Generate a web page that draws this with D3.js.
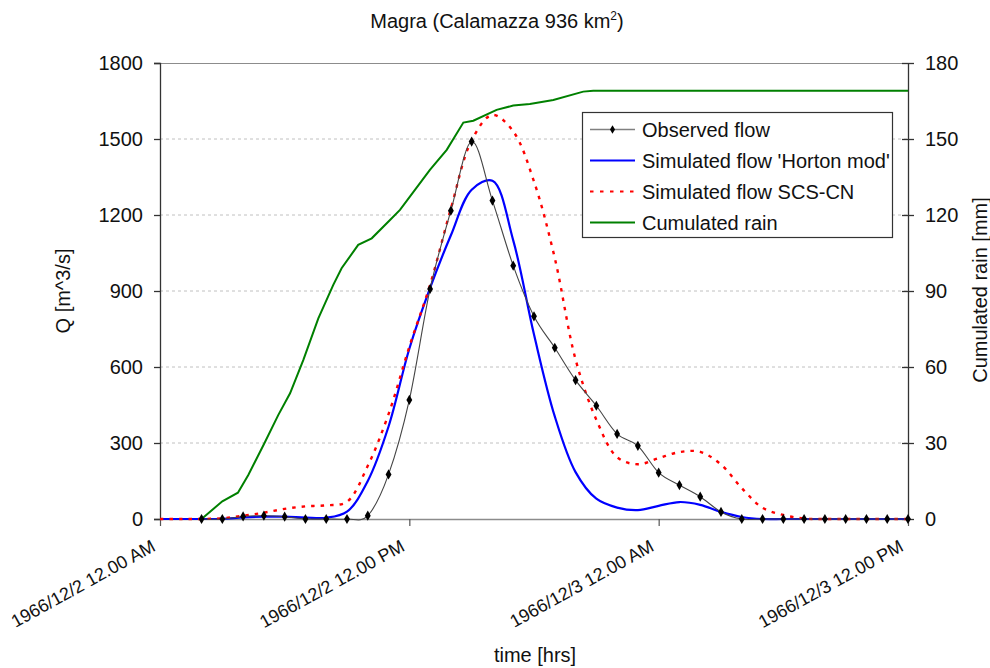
<!DOCTYPE html>
<html>
<head>
<meta charset="utf-8">
<script src="https://cdn.jsdelivr.net/npm/d3@7"></script>
<style>
  body { margin: 0; background: #fff; }
  svg { display: block; font-family: Arial, "Liberation Sans", sans-serif; }
</style>
</head>
<body>
<svg id="chart" width="990" height="668"></svg>
<script>
// ---- data ----
const title = "Magra (Calamazza 936 km";
const xTickHours = [0, 12, 24, 36];
const xTickLabels = ["1966/12/2 12.00 AM", "1966/12/2 12.00 PM", "1966/12/3 12.00 AM", "1966/12/3 12.00 PM"];
const qTicks = [0, 300, 600, 900, 1200, 1500, 1800];
const rainTicks = [0, 30, 60, 90, 120, 150, 180];

const obsHours = [2,3,4,5,6,7,8,9,10,11,12,13,14,15,16,17,18,19,20,21,22,23,24,25,26,27,28,29,30,31,32,33,34,35,36];
const obsFlow  = [0,0,10,13,9,0,0,0,13,176,470,908,1217,1490,1257,1000,800,676,548,447,336,289,183,134,88,28,0,0,0,0,0,0,0,0,0];

const simHours = [0,1,2,3,4,5,6,7,8,9,10,11,12,13,14,15,16,17,18,19,20,21,22,23,24,25,26,27,28,29,30,31,32,33,34,35,36];
const hortonFlow = [0,0,0,1,6,9,9,6,5,29,150,365,672,912,1120,1300,1335,1100,728,405,185,80,45,35,52,67,56,28,8,0,0,0,0,0,0,0,0];
const scsFlow    = [0,0,0,3,13,25,40,50,54,68,210,414,680,925,1225,1495,1595,1530,1332,1030,630,392,244,216,240,264,265,215,122,44,16,2,0,0,0,0,0];

const rainHours = [0,2,3,3.75,4.25,5,5.69,6.26,6.9,7.62,8.34,8.74,9.54,10.19,11.07,11.55,12.27,12.99,13.8,14.6,15.08,16.2,17,17.8,18.93,20.37,20.85,36];
const rainCum   = [0,0,7,10.4,17.4,29.5,41,49.6,62.8,79.2,92.4,99,108.2,110.8,118,122,129.9,137.8,145.7,156.5,157.2,161.5,163.2,163.8,165.4,168.7,169,169];

const seriesNames = ["Observed flow", "Simulated flow 'Horton mod'", "Simulated flow SCS-CN", "Cumulated rain"];

// ---- layout ----
const svg = d3.select("#chart");
const L = 160, R = 908, T = 63, B = 519;
const FS = 20;
const FONT = "Arial, 'Liberation Sans', sans-serif";

const x = d3.scaleLinear().domain([0, 36]).range([L, R]);
const yQ = d3.scaleLinear().domain([0, 1800]).range([B, T]);
const yR = d3.scaleLinear().domain([0, 180]).range([B, T]);

// gridlines
svg.append("g").selectAll("line").data(qTicks.filter(d => d > 0 && d < 1800)).join("line")
  .attr("x1", L).attr("x2", R).attr("y1", d => yQ(d)).attr("y2", d => yQ(d))
  .attr("stroke", "#c0c0c0").attr("stroke-dasharray", "3,3").attr("stroke-width", 1);

// frame top
svg.append("line").attr("x1", L).attr("x2", R).attr("y1", T + 0.5).attr("y2", T + 0.5)
  .attr("stroke", "#8c8c8c").attr("stroke-width", 1.2);

// left axis
const axL = svg.append("g").attr("transform", `translate(${L},0)`)
  .call(d3.axisLeft(yQ).tickValues(qTicks).tickSize(6).tickPadding(11).tickFormat(d3.format("d")));
axL.select(".domain").attr("stroke", "#333").attr("stroke-width", 1.3);
axL.selectAll(".tick line").attr("stroke", "#333").attr("stroke-width", 1.3);
axL.selectAll("text").attr("font-size", FS).attr("fill", "#111").attr("font-family", FONT);

// right axis
const axR = svg.append("g").attr("transform", `translate(${R},0)`)
  .call(d3.axisRight(yR).tickValues(rainTicks).tickSizeInner(6).tickSizeOuter(0).tickPadding(11));
axR.select(".domain").attr("stroke", "#333").attr("stroke-width", 1.3);
axR.selectAll(".tick line").attr("x1", -6).attr("stroke", "#333").attr("stroke-width", 1.3);
axR.selectAll("text").attr("font-size", FS).attr("fill", "#111").attr("font-family", FONT);

// bottom axis
const axB = svg.append("g").attr("transform", `translate(0,${B})`)
  .call(d3.axisBottom(x).tickValues(xTickHours).tickSizeInner(7).tickSizeOuter(0).tickFormat((d, i) => xTickLabels[i]));
axB.select(".domain").attr("stroke", "#8c8c8c").attr("stroke-width", 1.6);
axB.selectAll(".tick line").attr("stroke", "#555").attr("stroke-width", 1.2);
axB.selectAll("text").attr("font-size", 18).attr("fill", "#111")
  .attr("font-family", FONT)
  .attr("text-anchor", "end").attr("dy", null).attr("y", 0)
  .attr("transform", "translate(-4,31) rotate(-29)");

// lines
const lineQ = (xs, ys, curve) => d3.line().x((d, i) => x(xs[i])).y(d => yQ(d)).curve(curve)(ys);

svg.append("path").attr("d", d3.line().x((d, i) => x(rainHours[i])).y(d => yR(d))(rainCum))
  .attr("fill", "none").attr("stroke", "#008000").attr("stroke-width", 2);

svg.append("path").attr("d", lineQ(simHours, hortonFlow, d3.curveCatmullRom.alpha(0.5)))
  .attr("fill", "none").attr("stroke", "#0000ff").attr("stroke-width", 2.2);

svg.append("path").attr("d", lineQ(simHours, scsFlow, d3.curveCatmullRom.alpha(0.5)))
  .attr("fill", "none").attr("stroke", "#ff0000").attr("stroke-width", 2.4).attr("stroke-dasharray", "3.5,6");

svg.append("path").attr("d", lineQ(obsHours, obsFlow, d3.curveCardinal.tension(0)))
  .attr("fill", "none").attr("stroke", "#454545").attr("stroke-width", 1.1);

const diamond = d3.symbol().type(d3.symbolDiamond).size(30);
svg.append("g").selectAll("path").data(obsFlow).join("path")
  .attr("d", diamond)
  .attr("transform", (d, i) => `translate(${x(obsHours[i])},${yQ(d)})`)
  .attr("fill", "#000");

// legend
const lg = svg.append("g");
lg.append("rect").attr("x", 582.5).attr("y", 112.5).attr("width", 310).attr("height", 125)
  .attr("fill", "#fff").attr("stroke", "#333").attr("stroke-width", 1.2);
const rows = [129.5, 160.5, 191.5, 222.5];
const lstyles = [
  {c: "#808080", w: 1.6, dash: null},
  {c: "#0000ff", w: 2.2, dash: null},
  {c: "#ff0000", w: 2, dash: "3.5,6.5"},
  {c: "#008000", w: 2, dash: null}
];
seriesNames.forEach((name, i) => {
  const yy = rows[i];
  lg.append("line").attr("x1", 590).attr("x2", 635).attr("y1", yy).attr("y2", yy)
    .attr("stroke", lstyles[i].c).attr("stroke-width", lstyles[i].w)
    .attr("stroke-dasharray", lstyles[i].dash);
  if (i === 0) lg.append("path").attr("d", d3.symbol().type(d3.symbolDiamond).size(22))
    .attr("transform", `translate(612.5,${yy})`).attr("fill", "#000");
  lg.append("text").attr("x", 642).attr("y", yy).attr("dy", "0.35em")
    .attr("font-size", FS).attr("fill", "#111").text(name);
});

// titles
const t = svg.append("text").attr("x", 497).attr("y", 28).attr("text-anchor", "middle")
  .attr("font-size", 20).attr("fill", "#111");
t.append("tspan").text(title);
t.append("tspan").attr("font-size", 12).attr("dy", -8).text("2");
t.append("tspan").attr("dy", 8).text(")");

svg.append("text").attr("x", 535).attr("y", 662).attr("text-anchor", "middle")
  .attr("font-size", FS).attr("fill", "#111").text("time [hrs]");

svg.append("text").attr("transform", "translate(70,291) rotate(-90)").attr("text-anchor", "middle")
  .attr("font-size", FS).attr("fill", "#111").text("Q [m^3/s]");

svg.append("text").attr("transform", "translate(987,290) rotate(-90)").attr("text-anchor", "middle")
  .attr("font-size", FS).attr("fill", "#111").text("Cumulated rain [mm]");
</script>
</body>
</html>
